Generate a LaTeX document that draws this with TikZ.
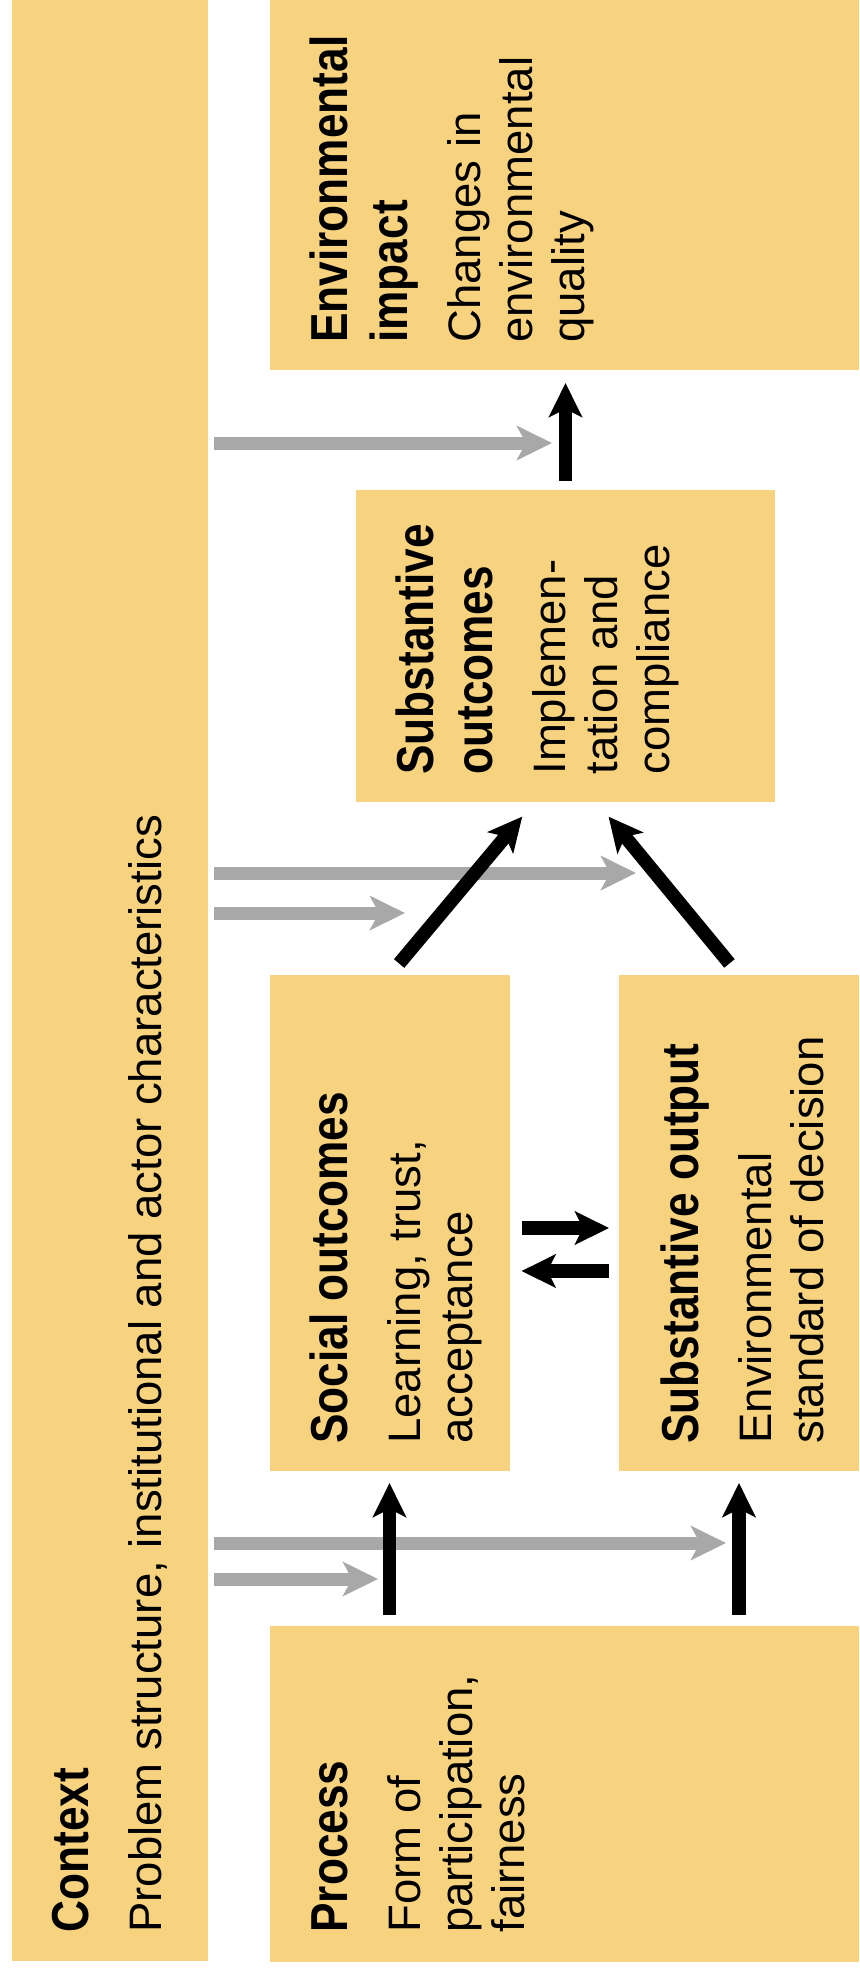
\documentclass[tikz,border=0pt]{standalone}
\usepackage{fontspec}
\usepackage{graphicx}
\setmainfont{Liberation Sans}
\usetikzlibrary{arrows.meta,calc}
\definecolor{boxc}{RGB}{248,211,127}
\definecolor{grayarr}{RGB}{168,168,168}
\newcommand{\ttl}[1]{\scalebox{0.85}[1]{\fontsize{26}{26}\selectfont\bfseries #1}}
\begin{document}
\begin{tikzpicture}[x=0.5pt,y=-0.5pt,
  box/.style={fill=boxc, draw=none, inner sep=0pt, outer sep=0pt},
  lbl/.style={rotate=90, anchor=base west, inner sep=0pt, font=\fontsize{22.75}{26}\selectfont},
  garrow/.style={draw=grayarr, line width=6.5pt, -{Stealth[length=17.5pt,width=17pt,inset=4.5pt]}},
  barrow/.style={draw=black, line width=6.75pt, -{Stealth[length=17pt,width=16.5pt,inset=4pt]}}]
\useasboundingbox (0,0) rectangle (859,1972);
% boxes
\node[box, minimum width=98pt, minimum height=980.5pt] (ctx) at (110,980.5) {};
\node[box, minimum width=294.5pt, minimum height=185pt] (ei) at (564.5,185) {};
\node[box, minimum width=209.5pt, minimum height=156pt] (so) at (565.5,646) {};
\node[box, minimum width=120pt, minimum height=248pt] (soc) at (389.5,1223) {};
\node[box, minimum width=120pt, minimum height=248pt] (sout) at (739,1223) {};
\node[box, minimum width=294.5pt, minimum height=168pt] (proc) at (564.5,1794) {};
% texts
\node[lbl] (ctxt) at (88,1933) {\begin{tabular}[t]{@{}l@{}}\ttl{Context}\\[10.5pt]Problem structure, institutional and actor characteristics\end{tabular}};
\node[lbl] (eit) at (347,343) {\begin{tabular}[t]{@{}l@{}}\ttl{Environmental}\\[3.6pt]\ttl{impact}\\[10.5pt]Changes in\\environmental\\quality\end{tabular}};
\node[lbl] (sot) at (433,775) {\begin{tabular}[t]{@{}l@{}}\ttl{Substantive}\\[3.6pt]\ttl{outcomes}\\[10.5pt]Implemen-\\tation and\\compliance\end{tabular}};
\node[lbl] (soct) at (347,1444) {\begin{tabular}[t]{@{}l@{}}\ttl{Social outcomes}\\[10.5pt]Learning, trust,\\acceptance\end{tabular}};
\node[lbl] (soutt) at (698,1444) {\begin{tabular}[t]{@{}l@{}}\ttl{Substantive output}\\[10.5pt]Environmental\\standard of decision\end{tabular}};
\node[lbl] (proct) at (347,1933) {\begin{tabular}[t]{@{}l@{}}\ttl{Process}\\[10.5pt]Form of\\participation,\\fairness\end{tabular}};
% gray arrow tips
\coordinate (g1) at (552,443);
\coordinate (g2) at (636,873);
\coordinate (g3) at (405,913);
\coordinate (g4) at (726,1543);
\coordinate (g5) at (378,1579);
\foreach \g in {g1,g2,g3,g4,g5}
  \draw[garrow, shorten <=3pt] (ctx.east |- \g) -- (\g);
% black arrows
\draw[barrow, shorten <=4.5pt, shorten >=6.5pt] (so.north) -- (so.north |- ei.south);
\draw[barrow, shorten <=7.5pt, shorten >=9.5pt] (soc.north) -- ($(so.south)+(-31,0)$);
\draw[barrow, shorten <=7.5pt, shorten >=9.5pt] (sout.north) -- ($(so.south)+(31,0)$);
\draw[barrow, shorten <=5.5pt, shorten >=6pt] (soc.south |- proc.north) -- (soc.south);
\draw[barrow, shorten <=5.5pt, shorten >=6pt] (sout.south |- proc.north) -- (sout.south);
\draw[barrow, shorten <=6pt, shorten >=5pt] ([yshift=-2.5pt]soc.east) -- ([yshift=-2.5pt]sout.west);
\draw[barrow, shorten <=5pt, shorten >=6pt] ([yshift=-24pt]sout.west) -- ([yshift=-24pt]soc.east);
\end{tikzpicture}
\end{document}
